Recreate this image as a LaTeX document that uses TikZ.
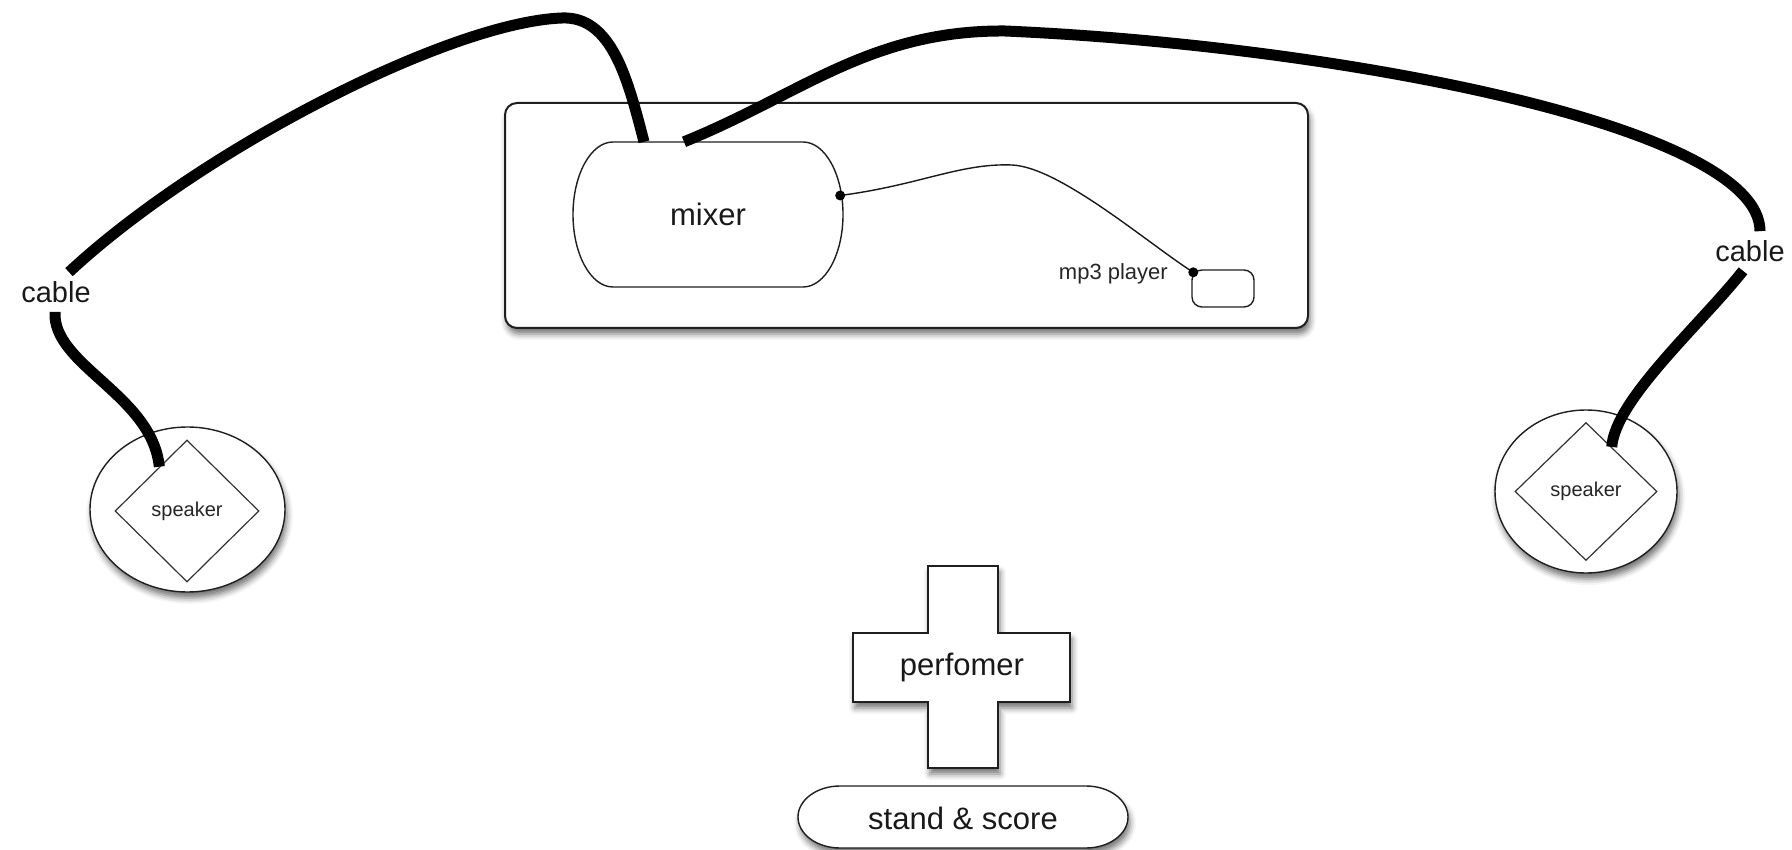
\documentclass[tikz,border=0pt]{standalone}
\usepackage{fontspec}
\setmainfont{Liberation Sans}
\usetikzlibrary{shapes.geometric,shadows.blur}

% Closed outline with flat top/bottom and elliptical ends:
% #1,#2 centre, #3 half width, #4 half height, #5 horizontal depth of the ends
\newcommand\pillpath[5]{%
  ({#1-#3+#5},{#2-#4}) -- ({#1+#3-#5},{#2-#4})
  .. controls ({#1+#3-0.448*#5},{#2-#4}) and ({#1+#3},{#2-0.552*#4}) .. ({#1+#3},{#2})
  .. controls ({#1+#3},{#2+0.552*#4}) and ({#1+#3-0.448*#5},{#2+#4}) .. ({#1+#3-#5},{#2+#4})
  -- ({#1-#3+#5},{#2+#4})
  .. controls ({#1-#3+0.448*#5},{#2+#4}) and ({#1-#3},{#2+0.552*#4}) .. ({#1-#3},{#2})
  .. controls ({#1-#3},{#2-0.552*#4}) and ({#1-#3+0.448*#5},{#2-#4}) .. cycle}

\tikzset{
  outline/.style={draw=black!88, line width=1.4pt},
  softshadow/.style={blur shadow={shadow xshift=2pt, shadow yshift=-6pt,
      shadow blur radius=6pt, shadow opacity=55}},
  cable/.style={line width=11pt, line cap=butt, draw=black},
  wire/.style={line width=1.4pt, draw=black!90},
  plug/.style={fill=black},
  biglabel/.style={font=\fontsize{31}{36}\selectfont, text=black!90},
  cablelabel/.style={font=\fontsize{29}{34}\selectfont, text=black!90, inner sep=9pt},
  smalllabel/.style={font=\fontsize{20}{24}\selectfont, text=black!85},
  midlabel/.style={font=\fontsize{22}{26}\selectfont, text=black!85},
}

\begin{document}
\begin{tikzpicture}[x=1pt, y=-1pt]
\useasboundingbox (0,0) rectangle (1792,850);

% table holding the mixer and the player
\node[outline, line width=2pt, rounded corners=12pt, fill=white, softshadow,
      minimum width=803pt, minimum height=225pt, inner sep=0pt] (desk) at (906.5,215.5) {};

% mixer
\draw[outline, fill=white] \pillpath{708}{214.5}{135}{72.5}{40};
\node[biglabel, minimum width=270pt, minimum height=145pt] (mixer) at (708,214.5) {mixer};

% mp3 player
\node[outline, rounded corners=10pt, fill=white, minimum width=62pt, minimum height=37pt,
      inner sep=0pt] (mp3) at (1223,288.5) {};
\node[midlabel, anchor=east, inner sep=0pt] (mp3lbl) at (1168,274) {mp3 player};

% thin lead from mixer to player
\coordinate (mixout) at ([shift={(-3pt,19pt)}]mixer.east);
\coordinate (mp3in) at ([shift={(2pt,-3pt)}]mp3.north west);
\draw[wire] (mixout) .. controls (920,185) and (960,163) .. (1012,165)
            .. controls (1060,167) and (1150,245) .. (mp3in);
\fill[plug] (mixout) circle (5pt);
\fill[plug] (mp3in) circle (5pt);

% speakers
\node[ellipse, outline, fill=white, softshadow, minimum width=195pt, minimum height=165pt,
      inner sep=0pt] (boxL) at (187.5,509.5) {};
\node[diamond, draw=black!80, line width=1.2pt, minimum width=144pt, minimum height=142pt,
      inner sep=0pt, smalllabel] (spkL) at (187,511) {speaker};
\node[ellipse, outline, fill=white, softshadow, minimum width=182pt, minimum height=163pt,
      inner sep=0pt] (boxR) at (1586,491.5) {};
\node[diamond, draw=black!80, line width=1.2pt, minimum width=142pt, minimum height=138pt,
      inner sep=0pt, smalllabel] (spkR) at (1586,491.5) {speaker};

% cable labels
\node[cablelabel] (cableL) at (56,292) {cable};
\node[cablelabel] (cableR) at (1750,251) {cable};

% left cable
\draw[cable] ([xshift=-64pt]mixer.north) .. controls (628,80) and (612,16) .. (562,18)
             .. controls (450,22) and (200,150) .. ([xshift=13pt]cableL.north);
\draw[cable] ([xshift=-1pt]cableL.south) .. controls (52,365) and (152,395) .. (spkL.122);

% right cable
\draw[cable] ([xshift=-24pt]mixer.north) .. controls (800,95) and (870,30) .. (1005,31)
             .. controls (1330,45) and (1760,125) .. ([xshift=10pt]cableR.north);
\draw[cable] ([xshift=-7pt]cableR.south) .. controls (1700,325) and (1615,400) .. (spkR.60);

% performer
\draw[outline, fill=white, softshadow]
  (928,566) -- (998,566) -- (998,633) -- (1070,633) -- (1070,702) -- (998,702)
  -- (998,768) -- (928,768) -- (928,702) -- (853,702) -- (853,633) -- (928,633) -- cycle;
\node[biglabel] (perf) at (962,667) {perfomer};

% music stand
\draw[outline, fill=white, softshadow] \pillpath{963}{817}{165}{31}{42};
\node[biglabel] (stand) at (963,818) {stand \& score};

\end{tikzpicture}
\end{document}
